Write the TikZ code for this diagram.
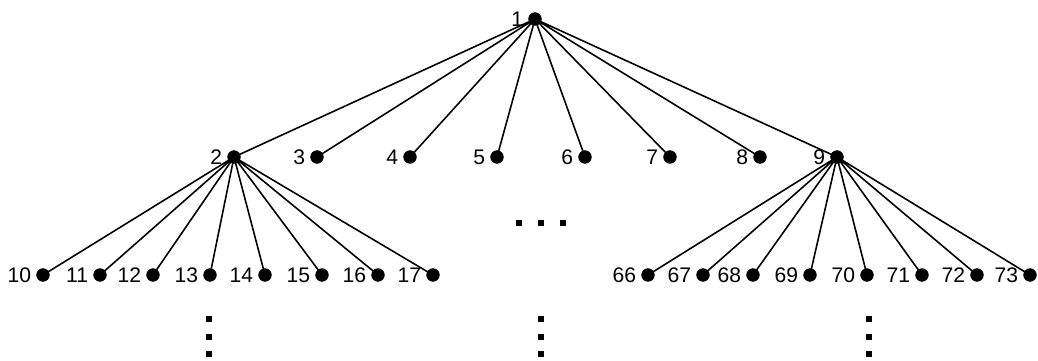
\documentclass[tikz,border=0pt]{standalone}
\usepackage{fontspec}
\setmainfont{Liberation Sans}
\usetikzlibrary{backgrounds}

\begin{document}
\begin{tikzpicture}[
  x=0.02cm, y=-0.02cm,
  every node/.style={inner sep=1pt},
  vert/.style={circle, draw, fill=black, minimum size=7.2pt, inner sep=0pt},
  vlab/.style={font=\fontsize{12}{14}\selectfont, inner sep=1pt, label distance=1.8pt},
  edge/.style={draw, line width=0.9pt},
  % the little square dots that stand for the vertices left out
  more/.style={rectangle, fill=black, minimum size=3pt, inner sep=0pt}]

  \useasboundingbox (0,0) rectangle (1038,361);

  % vertices
  \node[vert, label={[vlab]left:1}] (v1) at (535, 19) {};

  \node[vert, label={[vlab]left:2}] (v2) at (234,157) {};
  \node[vert, label={[vlab]left:3}] (v3) at (317,157) {};
  \node[vert, label={[vlab]left:4}] (v4) at (410,157) {};
  \node[vert, label={[vlab]left:5}] (v5) at (497,157) {};
  \node[vert, label={[vlab]left:6}] (v6) at (585,157) {};
  \node[vert, label={[vlab]left:7}] (v7) at (670,157) {};
  \node[vert, label={[vlab]left:8}] (v8) at (760,157) {};
  \node[vert, label={[vlab]left:9}] (v9) at (837,157) {};

  \node[vert, label={[vlab]left:10}] (v10) at ( 43,275) {};
  \node[vert, label={[vlab]left:11}] (v11) at (100,275) {};
  \node[vert, label={[vlab]left:12}] (v12) at (153,275) {};
  \node[vert, label={[vlab]left:13}] (v13) at (210,275) {};
  \node[vert, label={[vlab]left:14}] (v14) at (265,275) {};
  \node[vert, label={[vlab]left:15}] (v15) at (322,275) {};
  \node[vert, label={[vlab]left:16}] (v16) at (378,275) {};
  \node[vert, label={[vlab]left:17}] (v17) at (433,275) {};

  \node[vert, label={[vlab]left:66}] (v66) at ( 648,275) {};
  \node[vert, label={[vlab]left:67}] (v67) at ( 703,275) {};
  \node[vert, label={[vlab]left:68}] (v68) at ( 753,275) {};
  \node[vert, label={[vlab]left:69}] (v69) at ( 810,275) {};
  \node[vert, label={[vlab]left:70}] (v70) at ( 867,275) {};
  \node[vert, label={[vlab]left:71}] (v71) at ( 922,275) {};
  \node[vert, label={[vlab]left:72}] (v72) at ( 977,275) {};
  \node[vert, label={[vlab]left:73}] (v73) at (1030,275) {};

  % edges, behind the vertices
  \begin{scope}[on background layer]
  \fill[white] (0,0) rectangle (1038,361);
  \path[edge] (v1.center) -- (v2.center)  (v1.center) -- (v3.center)
              (v1.center) -- (v4.center)  (v1.center) -- (v5.center)
              (v1.center) -- (v6.center)  (v1.center) -- (v7.center)
              (v1.center) -- (v8.center)  (v1.center) -- (v9.center);
  \path[edge] (v2.center) -- (v10.center) (v2.center) -- (v11.center)
              (v2.center) -- (v12.center) (v2.center) -- (v13.center)
              (v2.center) -- (v14.center) (v2.center) -- (v15.center)
              (v2.center) -- (v16.center) (v2.center) -- (v17.center);
  \path[edge] (v9.center) -- (v66.center) (v9.center) -- (v67.center)
              (v9.center) -- (v68.center) (v9.center) -- (v69.center)
              (v9.center) -- (v70.center) (v9.center) -- (v71.center)
              (v9.center) -- (v72.center) (v9.center) -- (v73.center);
  \end{scope}

  % the omitted parts
  \node[more] (h1) at (519,223) {};
  \node[more] (h2) at (541,223) {};
  \node[more] (h3) at (563,223) {};

  \node[more] (la) at (209,319) {};
  \node[more] (lb) at (209,337) {};
  \node[more] (lc) at (209,354) {};
  \node[more] (ma) at (541,319) {};
  \node[more] (mb) at (541,337) {};
  \node[more] (mc) at (541,354) {};
  \node[more] (ra) at (869,319) {};
  \node[more] (rb) at (869,337) {};
  \node[more] (rc) at (869,354) {};
\end{tikzpicture}
\end{document}
